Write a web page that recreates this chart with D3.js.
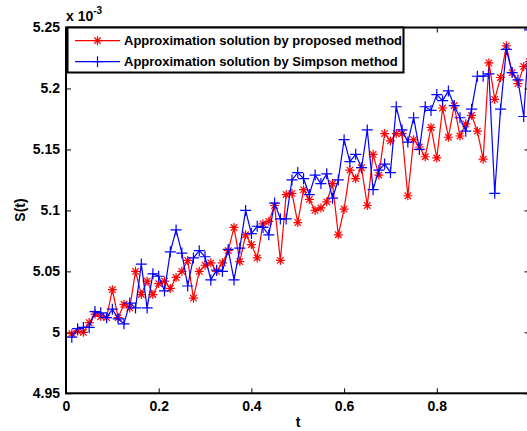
<!DOCTYPE html>
<html>
<head>
<meta charset="utf-8">
<script src="https://cdn.jsdelivr.net/npm/d3@7"></script>
<style>
  body { margin: 0; background: #fff; }
  svg { display: block; overflow: hidden; }
  text { font-family: "Liberation Sans", Arial, sans-serif; font-weight: bold; }
</style>
</head>
<body>
<div id="chart"></div>
<script>
// Chart values (S in units of 1e-3), one sample every 1/80 of t
var step = 1 / 80;
var proposed = [4.999, 5.001, 5.000, 5.008, 5.015, 5.013, 5.012, 5.035, 5.012, 5.023,
  5.020, 5.050, 5.031, 5.042, 5.031, 5.040, 5.042, 5.036, 5.045, 5.050,
  5.059, 5.028, 5.050, 5.055, 5.057, 5.050, 5.057, 5.067, 5.086, 5.058,
  5.080, 5.072, 5.061, 5.089, 5.091, 5.104, 5.059, 5.113, 5.114, 5.090,
  5.117, 5.109, 5.100, 5.102, 5.107, 5.122, 5.080, 5.101, 5.133, 5.126,
  5.135, 5.104, 5.146, 5.129, 5.163, 5.157, 5.163, 5.163, 5.112, 5.158,
  5.152, 5.144, 5.168, 5.143, 5.184, 5.160, 5.186, 5.161, 5.171, 5.178,
  5.165, 5.142, 5.221, 5.191, 5.209, 5.235, 5.213, 5.204, 5.218, 5.222];
var simpson = [4.996, 5.003, 5.004, 5.004, 5.017, 5.016, 5.012, 5.019, 5.011, 5.007,
  5.024, 5.020, 5.056, 5.020, 5.048, 5.046, 5.034, 5.066, 5.084, 5.065,
  5.038, 5.061, 5.067, 5.062, 5.043, 5.051, 5.050, 5.068, 5.043, 5.069,
  5.100, 5.081, 5.087, 5.086, 5.080, 5.106, 5.093, 5.093, 5.125, 5.131,
  5.126, 5.113, 5.129, 5.122, 5.130, 5.110, 5.125, 5.158, 5.140, 5.146,
  5.135, 5.166, 5.117, 5.133, 5.138, 5.131, 5.185, 5.166, 5.156, 5.176,
  5.150, 5.185, 5.182, 5.195, 5.190, 5.198, 5.186, 5.176, 5.165, 5.183,
  5.210, 5.210, 5.212, 5.114, 5.183, 5.232, 5.213, 5.207, 5.177, 5.248];
var xTicks = [0, 0.2, 0.4, 0.6, 0.8];
var yTicks = [4.95, 5, 5.05, 5.1, 5.15, 5.2, 5.25];
var seriesNames = ["Approximation solution by proposed method", "Approximation solution by Simpson method"];

var width = 527, height = 431;
var plotLeft = 66, plotRight = 529.5, plotTop = 27.5, plotBottom = 393.3;

var svg = d3.select("#chart").append("svg")
  .attr("width", width)
  .attr("height", height);

var x = d3.scaleLinear().domain([0, 1]).range([plotLeft, plotRight]);
var y = d3.scaleLinear().domain([4.95, 5.25]).range([plotBottom, plotTop]);

// Axes (ticks point inward like MATLAB)
var fmt = function(d) { return String(+d.toFixed(2)); };
var gx = svg.append("g").attr("transform", "translate(0," + plotBottom + ")")
  .call(d3.axisBottom(x).tickValues(xTicks).tickSize(-5).tickSizeOuter(0).tickPadding(8).tickFormat(fmt));
var gy = svg.append("g").attr("transform", "translate(" + plotLeft + ",0)")
  .call(d3.axisLeft(y).tickValues(yTicks).tickSize(-5).tickSizeOuter(0).tickPadding(6).tickFormat(fmt));
var gt = svg.append("g").attr("transform", "translate(0," + plotTop + ")")
  .call(d3.axisTop(x).tickValues(xTicks).tickSize(-5).tickSizeOuter(0).tickFormat(""));
var gr = svg.append("g").attr("transform", "translate(" + plotRight + ",0)")
  .call(d3.axisRight(y).tickValues(yTicks).tickSize(-5).tickSizeOuter(0).tickFormat(""));

[gx, gy, gt, gr].forEach(function(g) {
  g.select(".domain").remove();
  g.selectAll(".tick line").attr("stroke", "#000").attr("stroke-width", 1);
  g.selectAll(".tick text").attr("fill", "#000").style("font-size", "14px");
});

// Series
var line = d3.line()
  .x(function(d, i) { return x((i + 1) * step); })
  .y(function(d) { return y(d); });

function star(r) {
  var k = r * 0.72;
  return "M" + (-r) + ",0H" + r + "M0," + (-r) + "V" + r +
    "M" + (-k) + "," + (-k) + "L" + k + "," + k + "M" + (-k) + "," + k + "L" + k + "," + (-k);
}
function plus(r) {
  return "M" + (-r) + ",0H" + r + "M0," + (-r) + "V" + r;
}

var series = [
  { values: proposed, color: "#ff0000", marker: star, size: 4.5 },
  { values: simpson, color: "#0000ff", marker: plus, size: 5.5 }
];

series.forEach(function(s) {
  var g = svg.append("g");
  g.append("path")
    .attr("d", line(s.values))
    .attr("fill", "none")
    .attr("stroke", s.color)
    .attr("stroke-width", 1.2);
  g.selectAll("path.m")
    .data(s.values)
    .join("path")
    .attr("class", "m")
    .attr("transform", function(d, i) { return "translate(" + x((i + 1) * step) + "," + y(d) + ")"; })
    .attr("d", s.marker(s.size))
    .attr("fill", "none")
    .attr("stroke", s.color)
    .attr("stroke-width", 1.2);
});

// Axes box
svg.append("rect")
  .attr("x", plotLeft).attr("y", plotTop)
  .attr("width", plotRight - plotLeft).attr("height", plotBottom - plotTop)
  .attr("fill", "none").attr("stroke", "#000").attr("stroke-width", 2);

// Exponent label
var ex = svg.append("text").attr("x", 66).attr("y", 21).style("font-size", "14px");
ex.append("tspan").text("x 10");
ex.append("tspan").attr("dy", -7).style("font-size", "10px").text("-3");

// Axis labels
svg.append("text").attr("x", 298).attr("y", 427).attr("text-anchor", "middle")
  .style("font-size", "14px").text("t");
svg.append("text").attr("transform", "translate(25,210) rotate(-90)").attr("text-anchor", "middle")
  .style("font-size", "14px").text("S(t)");

// Legend
var lg = svg.append("g");
lg.append("rect")
  .attr("x", 67.5).attr("y", 27.5).attr("width", 336).attr("height", 45)
  .attr("fill", "#fff").attr("stroke", "#000").attr("stroke-width", 2);
series.forEach(function(s, i) {
  var ly = 40.7 + i * 21;
  lg.append("line").attr("x1", 75).attr("x2", 120).attr("y1", ly).attr("y2", ly)
    .attr("stroke", s.color).attr("stroke-width", 1.2);
  lg.append("path").attr("transform", "translate(97.5," + ly + ")")
    .attr("d", s.marker(s.size)).attr("fill", "none")
    .attr("stroke", s.color).attr("stroke-width", 1.2);
  lg.append("text").attr("x", 124).attr("y", ly + 4.5)
    .style("font-size", "13px").text(seriesNames[i]);
});
</script>
</body>
</html>
